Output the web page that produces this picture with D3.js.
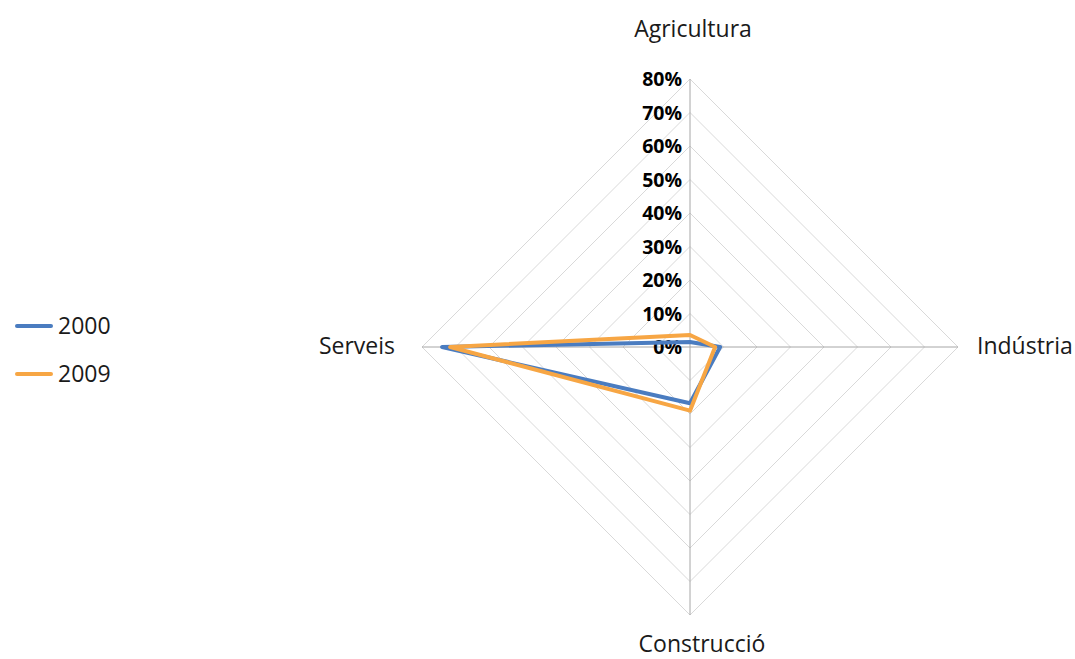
<!DOCTYPE html>
<html><head><meta charset="utf-8">
<script src="https://cdn.jsdelivr.net/npm/d3@7/dist/d3.min.js"></script>
<style>body{margin:0;background:#fff}svg{display:block}</style>
</head><body><svg id="c" width="1075" height="659"></svg>
<script>
const categories = ["Agricultura", "Indústria", "Construcció", "Serveis"];
const series2000 = [0.015, 0.09, 0.168, 0.74];
const series2009 = [0.036, 0.075, 0.19, 0.716];
const seriesNames = ["2000", "2009"];
const seriesColors = ["#4a7cc0", "#f7a644"];
const tickValues = [0, 0.1, 0.2, 0.3, 0.4, 0.5, 0.6, 0.7, 0.8];

const svg = d3.select("#c");
const cx = 690, cy = 347, R = 268;
const font = "'Open Sans', sans-serif";
const r = d3.scaleLinear().domain([0, 0.8]).range([0, R]);
const angle = c => categories.indexOf(c) * 2 * Math.PI / categories.length;
const pt = (c, v) => [cx + r(v) * Math.sin(angle(c)), cy - r(v) * Math.cos(angle(c))];

const g = svg.append("g");
tickValues.slice(1).forEach(t => {
  g.append("polygon")
    .attr("points", categories.map(c => pt(c, t).join(",")).join(" "))
    .attr("fill", "none").attr("stroke", "#d9d9d9").attr("stroke-width", 1);
});
categories.forEach(c => {
  const [x, y] = pt(c, 0.8);
  g.append("line").attr("x1", cx).attr("y1", cy).attr("x2", x).attr("y2", y)
    .attr("stroke", "#a6a6a6").attr("stroke-width", 1);
});
tickValues.forEach(t => {
  g.append("text").attr("x", cx - 8).attr("y", cy - r(t) + 7)
    .attr("text-anchor", "end").attr("font-family", font).attr("font-weight", "bold")
    .attr("font-size", 19.5).attr("fill", "#000").text(d3.format(".0%")(t));
});
const labelPos = [[3, -310, "middle"], [287, 7, "start"], [12, 305, "middle"], [-295, 7, "end"]];
categories.forEach((c, i) => {
  const [dx, dy, anchor] = labelPos[i];
  g.append("text").attr("x", cx + dx).attr("y", cy + dy)
    .attr("text-anchor", anchor).attr("font-family", font).attr("font-size", 23)
    .attr("fill", "#1a1a1a").text(c);
});
const line = d3.line().curve(d3.curveLinearClosed);
[series2000, series2009].forEach((s, i) => {
  g.append("path").attr("d", line(categories.map((c, j) => pt(c, s[j]))))
    .attr("fill", "none").attr("stroke", seriesColors[i]).attr("stroke-width", 4)
    .attr("stroke-linejoin", "round");
});
seriesNames.forEach((n, i) => {
  const y = 326 + i * 48;
  svg.append("line").attr("x1", 17).attr("x2", 51).attr("y1", y).attr("y2", y)
    .attr("stroke", seriesColors[i]).attr("stroke-width", 4).attr("stroke-linecap", "round");
  svg.append("text").attr("x", 58).attr("y", y + 8).attr("font-family", font)
    .attr("font-size", 23).attr("fill", "#1a1a1a").text(n);
});
</script></body></html>
